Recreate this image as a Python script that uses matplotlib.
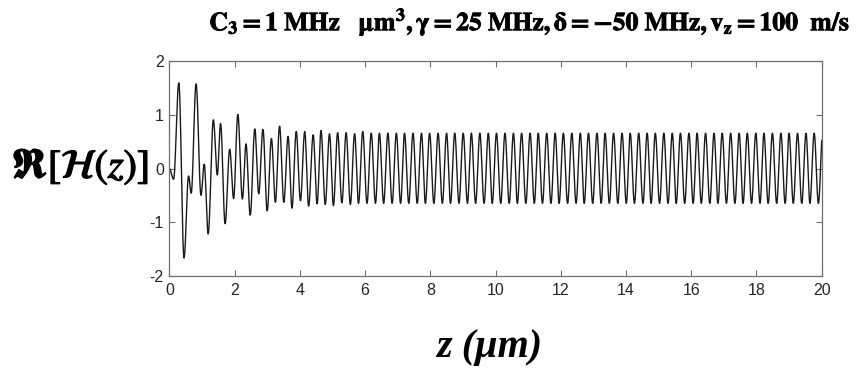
import numpy as np
import matplotlib
matplotlib.use('Agg')
import matplotlib.pyplot as plt
import matplotlib.patheffects as pe

plt.rcParams['mathtext.fontset'] = 'stix'
plt.rcParams['font.family'] = ['Liberation Sans', 'DejaVu Sans']
plt.rcParams['axes.unicode_minus'] = False

# ------------------------------------------------------------
# extrema (z in um, Re[H])
# ------------------------------------------------------------
early_z = [0.00, 0.13, 0.29, 0.45, 0.59, 0.67, 0.82, 0.97, 1.07, 1.19,
           1.35, 1.47, 1.57, 1.71, 1.85, 1.97, 2.10, 2.24, 2.35, 2.48,
           2.62, 2.74, 2.87, 3.00, 3.13, 3.25, 3.38, 3.51, 3.64, 3.76,
           3.89, 4.02, 4.15, 4.27, 4.41, 4.53]
early_h = [0.00, -0.20, 1.60, -1.67, -0.14, -0.46, 1.58, -0.50, 0.08, -1.22,
           0.91, -0.12, 0.84, -1.03, 0.36, -0.56, 1.01, -0.57, 0.46, -0.87,
           0.74, -0.47, 0.73, -0.79, 0.56, -0.63, 0.79, -0.63, 0.60, -0.74,
           0.69, -0.60, 0.69, -0.70, 0.63, -0.66]

# steady oscillation: maxima and minima positions
peak_z = [4.65, 4.91, 5.16, 5.42, 5.68, 5.93, 6.19, 6.44, 6.70, 6.96,
          7.21, 7.47, 7.73, 7.98, 8.24, 8.50, 8.75, 9.01, 9.26, 9.52,
          9.78, 10.03, 10.29, 10.55, 10.80, 11.06, 11.31, 11.57, 11.83, 12.08,
          12.34, 12.60, 12.85, 13.11, 13.36, 13.62, 13.88, 14.13, 14.39, 14.65,
          14.90, 15.16, 15.42, 15.67, 15.93, 16.18, 16.44, 16.70, 16.95, 17.21,
          17.47, 17.72, 17.98, 18.23, 18.49, 18.75, 19.00, 19.26, 19.52, 19.77,
          20.03]
trough_z = [4.78, 5.03, 5.29, 5.55, 5.80, 6.06, 6.32, 6.57, 6.83, 7.09,
            7.34, 7.60, 7.85, 8.11, 8.37, 8.62, 8.88, 9.14, 9.39, 9.65,
            9.90, 10.16, 10.42, 10.67, 10.93, 11.19, 11.44, 11.70, 11.95, 12.21,
            12.47, 12.72, 12.98, 13.24, 13.49, 13.75, 14.01, 14.26, 14.52, 14.77,
            15.03, 15.29, 15.54, 15.80, 16.06, 16.31, 16.57, 16.82, 17.08, 17.34,
            17.59, 17.85, 18.11, 18.36, 18.62, 18.88, 19.13, 19.39, 19.64, 19.90]
peak_h = [0.71, 0.65, 0.67, 0.67, 0.65, 0.69] + [0.66] * 55
trough_h = [-0.67, -0.69, -0.64, -0.67] + [-0.65] * 56

x_ticks = [0, 2, 4, 6, 8, 10, 12, 14, 16, 18, 20]
y_ticks = [-2, -1, 0, 1, 2]
y_tick_labels = ['-2', '-1', '0', '1', '2']


def smooth_through(zs, hs, n=24):
    """half-cosine segments between consecutive extrema"""
    out_z, out_h = [], []
    t = np.linspace(0, 1, n, endpoint=False)
    for i in range(len(zs) - 1):
        out_z.append(zs[i] + (zs[i + 1] - zs[i]) * t)
        out_h.append(hs[i] + (hs[i + 1] - hs[i]) * (1 - np.cos(np.pi * t)) / 2)
    out_z.append([zs[-1]])
    out_h.append([hs[-1]])
    return np.concatenate(out_z), np.concatenate(out_h)


# merge early extrema with the steady maxima / minima
steady_z, steady_h = [], []
for k in range(len(peak_z)):
    steady_z.append(peak_z[k])
    steady_h.append(peak_h[k])
    if k < len(trough_z):
        steady_z.append(trough_z[k])
        steady_h.append(trough_h[k])

z, h = smooth_through(early_z + steady_z, early_h + steady_h)

fig = plt.figure(figsize=(8.64, 3.70), dpi=100)
ax = fig.add_axes([0.196, 0.255, 0.755, 0.579])

ax.plot(z, h, color='#1a1a1a', linewidth=1.0)

ax.set_xlim(0, 20)
ax.set_ylim(-2, 2)
ax.set_xticks(x_ticks)
ax.set_yticks(y_ticks)
ax.set_yticklabels(y_tick_labels)
ax.tick_params(direction='in', length=4, width=0.8, color='#6e6e6e',
               labelsize=11.5, labelcolor='#262626', top=True, right=True)
ax.tick_params(axis='x', pad=5)
ax.tick_params(axis='y', pad=4)
for sp in ax.spines.values():
    sp.set_color('#6e6e6e')
    sp.set_linewidth(0.9)

bold_fx = [pe.withStroke(linewidth=0.6, foreground='black')]

fig.text(0.614, 0.94,
         r'$\mathbf{C_3 = 1\ MHz\ \ \ \mu m^3, \gamma = 25\ MHz, \delta = -50\ MHz, v_z = 100\ \ m/s}$',
         ha='center', va='center', fontsize=18.5, path_effects=bold_fx)
fig.text(0.172, 0.548, r'$\mathbf{\Re}[\mathcal{H}(\mathit{z})]$',
         ha='right', va='center', fontsize=29,
         path_effects=[pe.withStroke(linewidth=1.0, foreground='black')])
fig.text(0.566, 0.062, 'z (μm)', family='Liberation Serif',
         fontweight='bold', fontstyle='italic',
         ha='center', va='center', fontsize=29)

fig.savefig('out.png', dpi=100)
